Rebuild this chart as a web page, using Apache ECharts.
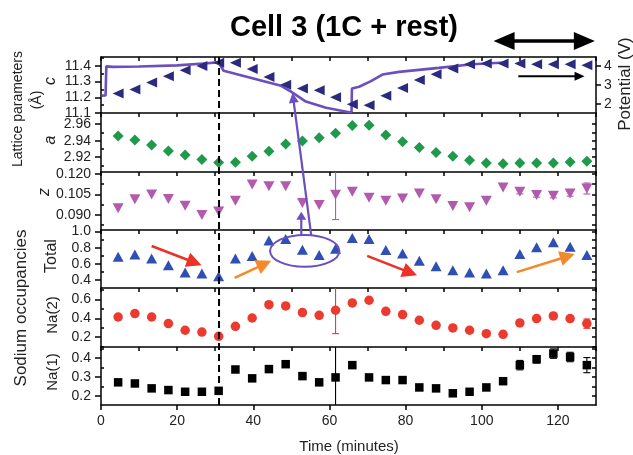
<!DOCTYPE html>
<html><head><meta charset="utf-8">
<script src="https://cdn.jsdelivr.net/npm/echarts@6/dist/echarts.min.js"></script>
<style>html,body{margin:0;padding:0;background:#fff}#c{width:633px;height:455px}</style>
</head><body><div id="c"></div>
<script>
// ---------- data ----------
const times = [4.5,8.9,13.3,17.7,22.1,26.5,30.9,35.3,39.7,44.1,48.5,52.9,57.3,61.6,66.0,70.4,74.8,79.2,83.6,88.0,92.4,96.8,101.2,105.6,110.0,114.4,118.8,123.2,127.6];
const cValues = [11.224,11.25,11.294,11.334,11.373,11.40,11.42,11.42,11.38,11.33,11.28,11.256,11.245,11.20,11.156,11.15,11.21,11.26,11.31,11.347,11.383,11.41,11.415,11.415,11.415,11.41,11.41,11.41,11.405];
const aValues = [2.9456,2.9407,2.9346,2.9276,2.9227,2.917,2.9134,2.9137,2.9211,2.9272,2.9358,2.9395,2.9436,2.949,2.9583,2.9588,2.9469,2.9387,2.9318,2.9256,2.9211,2.9162,2.9129,2.9121,2.9129,2.913,2.913,2.9141,2.915];
const zValues = [0.0948,0.1013,0.1049,0.1015,0.0967,0.0900,0.0924,0.1003,0.1121,0.1109,0.1109,0.0986,0.0972,0.1046,0.1068,0.1025,0.1003,0.1020,0.1056,0.1013,0.0965,0.0955,0.1003,0.1100,0.1068,0.1044,0.1039,0.1056,0.1092];
const zErr = [null,null,null,null,null,null,null,null,null,null,null,null,null,0.018,null,null,null,null,null,null,null,null,null,null,0.0015,0.0015,0.0015,0.002,0.004];
const totalValues = [0.689,0.719,0.669,0.586,0.495,0.483,0.45,0.669,0.70,0.89,0.91,0.775,0.71,0.79,0.92,0.91,0.773,0.731,0.64,0.574,0.524,0.495,0.483,0.524,0.723,0.806,0.868,0.814,0.71];
const na2Values = [0.414,0.45,0.414,0.343,0.272,0.253,0.207,0.314,0.403,0.546,0.532,0.461,0.432,0.486,0.564,0.593,0.475,0.44,0.379,0.325,0.297,0.272,0.236,0.229,0.35,0.397,0.425,0.397,0.343];
const na2Err = [null,null,null,null,null,null,null,null,null,null,null,null,null,0.25,null,null,null,null,null,null,null,null,null,null,0.015,0.015,0.015,0.015,0.05];
const na1Values = [0.271,0.265,0.239,0.23,0.221,0.221,0.226,0.339,0.292,0.341,0.367,0.304,0.271,0.297,0.362,0.297,0.283,0.283,0.244,0.239,0.213,0.221,0.244,0.277,0.362,0.393,0.423,0.405,0.362];
const na1Err = [null,null,null,null,null,null,null,null,null,null,null,null,null,0.17,null,null,null,null,null,null,null,null,null,null,0.025,0.02,0.025,0.025,0.04];
const potentialTimes = [0.2,1.2,1.4,3,10,20,28,30.9,31.5,32.2,47.3,49.9,53.8,59.1,65.2,65.8,65.9,67.8,70.9,73.9,78.3,88.7,97.5,106.2];
const potentialValues = [2.44,2.45,3.98,3.95,3.97,4.03,4.14,4.2,3.98,3.75,2.96,2.65,2.13,1.81,1.57,1.58,2.82,2.91,3.2,3.55,3.69,3.9,4.09,4.18];

const xTickLabels = [0,20,40,60,80,100,120];
const cTicks = [11.1,11.2,11.3,11.4];
const aTicks = [2.92,2.94,2.96];
const zTicks = [0.090,0.105,0.120];
const totalTicks = [0.4,0.6,0.8,1.0];
const na2Ticks = [0.2,0.4,0.6];
const na1Ticks = [0.2,0.3,0.4];
const potentialTicks = [2,3,4];

// ---------- layout / style ----------
const FONT = "'Liberation Sans', Arial, sans-serif";
const edges = [57,113,172,230,288,347,405];
const panels = [
  {min:11.1, max:11.457, labels:cTicks, minor:[11.15,11.25,11.35,11.45], dec:1},
  {min:2.902, max:2.9735, labels:aTicks, minor:[2.91,2.93,2.95], dec:2},
  {min:0.079, max:0.1212, labels:zTicks, minor:[0.0825,0.0975,0.1125], dec:3},
  {min:0.304, max:1.02, labels:totalTicks, minor:[0.5,0.7,0.9], dec:1},
  {min:0.093, max:0.724, labels:na2Ticks, minor:[0.1,0.3,0.5,0.7], dec:1},
  {min:0.151, max:0.458, labels:na1Ticks, minor:[0.25,0.35,0.45], dec:1}
];
const BL = {color:'#000', width:1.5};

const grid = panels.map((p,i)=>({left:101, right:37, top:edges[i], height:edges[i+1]-edges[i]}));
const xAxis = panels.map((p,i)=>({
  gridIndex:i, type:'value', min:0, max:130, interval:10, position:'top',
  axisLine:{show:true, lineStyle:BL}, axisTick:{show:true, inside:true, length:4, lineStyle:BL},
  axisLabel:{show:false}, splitLine:{show:false}
}));
xAxis.push({
  gridIndex:5, type:'value', min:0, max:130, position:'bottom',
  axisLine:{show:true, lineStyle:BL},
  axisTick:{show:true, length:5, customValues:xTickLabels, lineStyle:BL},
  axisLabel:{show:true, customValues:xTickLabels, margin:9, fontSize:14, color:'#222', fontFamily:FONT},
  splitLine:{show:false}
});
const yAxis = [];
panels.forEach((p,i)=>{
  yAxis.push({gridIndex:i, type:'value', min:p.min, max:p.max, position:'left',
    axisLine:{show:true, lineStyle:BL},
    axisTick:{show:true, length:6, customValues:p.labels, lineStyle:BL},
    axisLabel:{show:true, customValues:p.labels, formatter:v=>v.toFixed(p.dec), margin:10, fontSize:14, color:'#222', fontFamily:FONT},
    splitLine:{show:false}});
  yAxis.push({gridIndex:i, type:'value', min:p.min, max:p.max, position:'left',
    axisLine:{show:false}, axisTick:{show:true, inside:true, length:3, customValues:p.minor, lineStyle:BL},
    axisLabel:{show:false}, splitLine:{show:false}});
  yAxis.push({gridIndex:i, type:'value', min:p.min, max:p.max, position:'right', show:i>0,
    axisLine:{show:true, lineStyle:BL}, axisTick:{show:true, inside:true, length:4, customValues:p.labels.concat(p.minor), lineStyle:BL},
    axisLabel:{show:false}, splitLine:{show:false}});
});
yAxis.push({gridIndex:0, type:'value', min:1.53, max:4.47, position:'right',
  axisLine:{show:true, lineStyle:BL},
  axisTick:{show:true, length:5, customValues:potentialTicks, lineStyle:BL},
  axisLabel:{show:true, customValues:potentialTicks, margin:8, fontSize:14, color:'#222', fontFamily:FONT},
  splitLine:{show:false}});

const pairs = vals => times.map((t,i)=>[t, vals[i]]);
const errData = (vals, err) => times.map((t,i)=> err[i]==null ? null : [t, vals[i]-err[i], vals[i]+err[i]]).filter(Boolean);
function errItem(color){
  return function(params, api){
    const x=api.value(0), lo=api.value(1), hi=api.value(2);
    const a=api.coord([x,hi]), b=api.coord([x,lo]);
    const w=3.5, st={stroke:color, lineWidth:1.1};
    return {type:'group', children:[
      {type:'line', shape:{x1:a[0],y1:a[1],x2:b[0],y2:b[1]}, style:st},
      {type:'line', shape:{x1:a[0]-w,y1:a[1],x2:a[0]+w,y2:a[1]}, style:st},
      {type:'line', shape:{x1:b[0]-w,y1:b[1],x2:b[0]+w,y2:b[1]}, style:st}]};
  };
}
const colC='#2c2a7e', colPot='#6b4fbf', colA='#1f9a4a', colZ='#b15aae', colT='#2f4fb2', colNa2='#ec3a2e', colNa1='#000';
const sc = c => ({color:c, opacity:1});

const series = [
  {type:'line', xAxisIndex:0, yAxisIndex:18, data:potentialTimes.map((t,i)=>[t,potentialValues[i]]), showSymbol:false, symbol:'none',
    lineStyle:{color:colPot, width:2.6}, z:1, silent:true},
  {type:'scatter', xAxisIndex:0, yAxisIndex:0, data:pairs(cValues), symbol:'triangle', symbolRotate:90, symbolSize:[10,11], itemStyle:sc(colC), z:3},
  {type:'scatter', xAxisIndex:1, yAxisIndex:3, data:pairs(aValues), symbol:'diamond', symbolSize:[11,11], itemStyle:sc(colA)},
  {type:'custom', xAxisIndex:2, yAxisIndex:6, data:errData(zValues,zErr), renderItem:errItem(colZ), clip:true, encode:{x:0,y:[1,2]}},
  {type:'scatter', xAxisIndex:2, yAxisIndex:6, data:pairs(zValues), symbol:'triangle', symbolRotate:180, symbolSize:[11,10], itemStyle:sc(colZ)},
  {type:'scatter', xAxisIndex:3, yAxisIndex:9, data:pairs(totalValues), symbol:'triangle', symbolSize:[11,10], itemStyle:sc(colT)},
  {type:'custom', xAxisIndex:4, yAxisIndex:12, data:errData(na2Values,na2Err), renderItem:errItem(colNa2), clip:true, encode:{x:0,y:[1,2]}},
  {type:'scatter', xAxisIndex:4, yAxisIndex:12, data:pairs(na2Values), symbol:'circle', symbolSize:9.5, itemStyle:sc(colNa2)},
  {type:'custom', xAxisIndex:5, yAxisIndex:15, data:errData(na1Values,na1Err), renderItem:errItem(colNa1), clip:true, encode:{x:0,y:[1,2]}},
  {type:'scatter', xAxisIndex:5, yAxisIndex:15, data:pairs(na1Values), symbol:'rect', symbolSize:8.5, itemStyle:sc(colNa1)}
];

const chart = echarts.init(document.getElementById('c'), null, {renderer:'canvas'});
chart.setOption({animation:false, backgroundColor:'#fff', grid, xAxis, yAxis, series});

// ---------- annotations (in data units, converted through the axes) ----------
const P = (panel, yIdx, x, y) => chart.convertToPixel({xAxisIndex:panel, yAxisIndex:yIdx}, [x,y]);
const g = [];
function arrow(p1,p2,color,lw,hl,hw){
  const dx=p2[0]-p1[0], dy=p2[1]-p1[1], L=Math.hypot(dx,dy), ux=dx/L, uy=dy/L;
  const bx=p2[0]-ux*hl, by=p2[1]-uy*hl;
  g.push({type:'line', shape:{x1:p1[0],y1:p1[1],x2:bx+ux*2,y2:by+uy*2}, style:{stroke:color,lineWidth:lw}, z:100});
  g.push({type:'polygon', shape:{points:[[p2[0],p2[1]],[bx-uy*hw,by+ux*hw],[bx+uy*hw,by-ux*hw]]}, style:{fill:color}, z:100});
}
function text(str,x,y,size,opt){
  opt = opt||{};
  g.push({type:'text', x, y, rotation:opt.rot||0, z:100,
    style:{text:str, fontSize:size, fontFamily:FONT, fontWeight:opt.bold?'bold':'normal', fontStyle:opt.italic?'italic':'normal',
      fill:opt.fill||'#222', align:'center', verticalAlign:'middle'}});
}
// dashed line at end of charge
const dTop = P(0,0,31,panels[0].max), dBot = P(5,15,31,panels[5].min);
g.push({type:'line', shape:{x1:dTop[0],y1:dTop[1],x2:dBot[0],y2:dBot[1]}, style:{stroke:'#000', lineWidth:2, lineDash:[7,4]}, z:90});
// red / orange arrows in Total panel
arrow(P(3,9,13.3,0.822), P(3,9,26.4,0.586), '#ec3128', 2.5, 15, 7.5);
arrow(P(3,9,69.9,0.70), P(3,9,83.0,0.46), '#ec3128', 2.5, 15, 7.5);
arrow(P(3,9,35.1,0.43), P(3,9,44.7,0.64), '#f28a2a', 2.5, 15, 7.5);
arrow(P(3,9,109.2,0.50), P(3,9,124.4,0.723), '#f28a2a', 2.5, 15, 7.5);
// ellipse
const eA = P(3,9,44.4,0.959), eB = P(3,9,62.6,0.565);
g.push({type:'ellipse', shape:{cx:(eA[0]+eB[0])/2, cy:(eA[1]+eB[1])/2, rx:Math.abs(eB[0]-eA[0])/2, ry:Math.abs(eB[1]-eA[1])/2},
  style:{stroke:colPot, fill:null, lineWidth:2}, z:100});
// purple line from ellipse to potential curve
arrow(P(3,9,55.2,0.959), P(0,18,50.3,2.59), colPot, 2.2, 10, 5);
// small purple arrow up to z
arrow(P(3,9,52.6,0.96), P(2,6,52.6,0.0922), colPot, 2.2, 8, 5);
// small black arrow in c panel
arrow(P(0,0,109.6,11.334), P(0,0,127,11.334), '#000', 2, 10, 4.5);
// big double-headed arrow above the plot
(function(){
  const x1 = P(0,0,103.1,11.4)[0], x2 = P(0,0,129.7,11.4)[0], y = edges[0]-16;
  const hl=21, hh=9, sw=1.8;
  g.push({type:'polygon', z:100, style:{fill:'#000'}, shape:{points:[
    [x1,y],[x1+hl,y-hh],[x1+hl,y-sw],[x2-hl,y-sw],[x2-hl,y-hh],[x2,y],[x2-hl,y+hh],[x2-hl,y+sw],[x1+hl,y+sw],[x1+hl,y+hh]]}});
})();
// texts
const R = Math.PI/2;
text('Cell 3 (1C + rest)', 344, 28, 29, {bold:true, fill:'#000'});
text('Lattice parameters', 18, 109, 14, {rot:R});
text('(Å)', 37, 100, 14, {rot:R});
text('Sodium occupancies', 21, 308, 17, {rot:R});
text('c', 51, 81, 16, {rot:R, italic:true});
text('a', 51, 140, 16, {rot:R, italic:true});
text('z', 45, 192, 16, {rot:R, italic:true});
text('Total', 52, 256, 16, {rot:R});
text('Na(2)', 53, 315, 15, {rot:R});
text('Na(1)', 53, 372, 15, {rot:R});
text('Potential (V)', 625, 84, 17, {rot:R});
text('Time (minutes)', 349, 447, 15);
chart.setOption({graphic: g});
</script></body></html>
